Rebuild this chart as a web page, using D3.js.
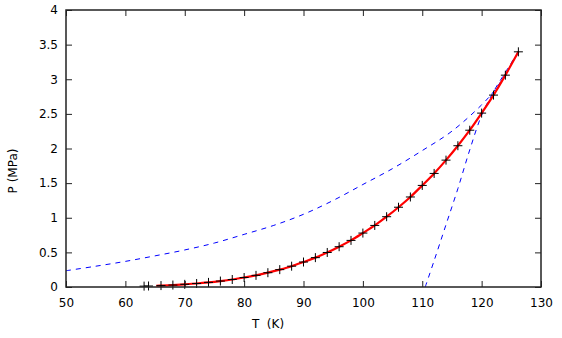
<!DOCTYPE html>
<html>
<head>
<meta charset="utf-8">
<script src="https://cdn.jsdelivr.net/npm/d3@7"></script>
<style>
  body { margin: 0; background: #fff; }
  text { font-family: "DejaVu Sans", sans-serif; font-size: 12px; fill: #000; }
</style>
</head>
<body>
<div id="chart"></div>
<script>
// saturation data (markers)
const tData = [63.15, 63.9, 66, 68, 70, 72, 74, 76, 78, 80, 82, 84, 86, 88, 90, 92, 94, 96, 98,
  100, 102, 104, 106, 108, 110, 112, 114, 116, 118, 120, 122, 124, 126.19];
const pData = [0.0125, 0.0146, 0.0204, 0.0280, 0.0385, 0.0506, 0.0664, 0.0856, 0.1083, 0.137,
  0.168, 0.2066, 0.2508, 0.3006, 0.3607, 0.424, 0.4986, 0.5817, 0.673,
  0.7788, 0.889, 1.015, 1.152, 1.300, 1.467, 1.640, 1.832, 2.040, 2.264, 2.511, 2.771, 3.059, 3.396];

// red fitted curve
const tFit = [65.2, 66, 68, 70, 72, 74, 76, 78, 80, 82, 84, 86, 88, 90, 92, 94, 96, 98,
  100, 102, 104, 106, 108, 110, 112, 114, 116, 118, 120, 122, 124, 126.19];
const pFit = [0.0178, 0.0204, 0.0280, 0.0385, 0.0506, 0.0664, 0.0856, 0.1083, 0.137,
  0.168, 0.2066, 0.2508, 0.3006, 0.3607, 0.424, 0.4986, 0.5817, 0.673,
  0.7788, 0.889, 1.015, 1.152, 1.300, 1.467, 1.640, 1.832, 2.040, 2.264, 2.511, 2.771, 3.059, 3.396];

// blue dashed approximations
const tApprox1 = [50, 55, 60, 65, 70, 75, 80, 85, 90, 95, 100, 105, 110, 115, 120, 122, 124, 126.19];
const pApprox1 = [0.235, 0.30, 0.37, 0.45, 0.535, 0.635, 0.76, 0.89, 1.05, 1.25, 1.48, 1.71, 1.97, 2.25, 2.63, 2.82, 3.07, 3.40];
const tApprox2 = [110.5, 112, 114, 116, 118, 120, 122, 124, 126.19];
const pApprox2 = [0, 0.38, 0.90, 1.42, 1.98, 2.48, 2.82, 3.10, 3.40];

const xTicks = [50, 60, 70, 80, 90, 100, 110, 120, 130];
const yTicks = [0, 0.5, 1, 1.5, 2, 2.5, 3, 3.5, 4];
const yTickLabels = ["0", "0.5", "1", "1.5", "2", "2.5", "3", "3.5", "4"];

const width = 562, height = 338;
const mLeft = 66, mRight = 541, mTop = 10, mBottom = 287;

const svg = d3.select("#chart").append("svg")
    .attr("width", width)
    .attr("height", height);

const x = d3.scaleLinear().domain([50, 130]).range([mLeft, mRight]);
const y = d3.scaleLinear().domain([0, 4]).range([mBottom, mTop]);

svg.append("clipPath").attr("id", "clip")
  .append("rect")
    .attr("x", mLeft).attr("y", mTop)
    .attr("width", mRight - mLeft).attr("height", mBottom - mTop);

// axes with inward ticks
const tickLen = 6;
svg.append("g")
    .attr("transform", `translate(0,${mBottom})`)
    .call(d3.axisBottom(x).tickValues(xTicks).tickSize(-tickLen).tickSizeOuter(0).tickPadding(11));
svg.append("g")
    .attr("transform", `translate(0,${mTop})`)
    .call(d3.axisTop(x).tickValues(xTicks).tickSize(-tickLen).tickSizeOuter(0).tickFormat(""));
svg.append("g")
    .attr("transform", `translate(${mLeft},0)`)
    .call(d3.axisLeft(y).tickValues(yTicks).tickSize(-tickLen).tickSizeOuter(0).tickPadding(8)
      .tickFormat((d, i) => yTickLabels[i]));
svg.append("g")
    .attr("transform", `translate(${mRight},0)`)
    .call(d3.axisRight(y).tickValues(yTicks).tickSize(-tickLen).tickSizeOuter(0).tickFormat(""));

svg.selectAll(".tick line").attr("stroke", "#222");
svg.selectAll(".domain").remove();
svg.selectAll(".tick text")
    .style("font-family", "DejaVu Sans, sans-serif")
    .style("font-size", "12px")
    .attr("fill", "#000");

const plot = svg.append("g").attr("clip-path", "url(#clip)");

const line = d3.line()
    .x(d => x(d[0]))
    .y(d => y(d[1]))
    .curve(d3.curveCatmullRom);

plot.append("path")
    .datum(d3.zip(tApprox1, pApprox1))
    .attr("d", line)
    .attr("fill", "none")
    .attr("stroke", "#0000ff")
    .attr("stroke-width", 1)
    .attr("stroke-dasharray", "5,5");

plot.append("path")
    .datum(d3.zip(tApprox2, pApprox2))
    .attr("d", line)
    .attr("fill", "none")
    .attr("stroke", "#0000ff")
    .attr("stroke-width", 1)
    .attr("stroke-dasharray", "5,5");

plot.append("path")
    .datum(d3.zip(tFit, pFit))
    .attr("d", line)
    .attr("fill", "none")
    .attr("stroke", "#ff0000")
    .attr("stroke-width", 2.2);

// plus markers
const s = 4.5;
svg.append("g").selectAll("path")
  .data(d3.zip(tData, pData))
  .enter().append("path")
    .attr("d", d => `M${x(d[0]) - s},${y(d[1])}h${2 * s}M${x(d[0])},${y(d[1]) - s}v${2 * s}`)
    .attr("stroke", "#000")
    .attr("stroke-width", 1)
    .attr("fill", "none");

// frame
svg.append("rect")
    .attr("x", mLeft).attr("y", mTop)
    .attr("width", mRight - mLeft).attr("height", mBottom - mTop)
    .attr("fill", "none")
    .attr("stroke", "#222")
    .attr("stroke-width", 1.5);

svg.append("text")
    .attr("x", 268)
    .attr("y", 328)
    .attr("text-anchor", "middle")
    .style("white-space", "pre")
    .text("T  (K)");

svg.append("text")
    .attr("transform", "translate(17,171) rotate(-90)")
    .attr("text-anchor", "middle")
    .text("P (MPa)");
</script>
</body>
</html>
